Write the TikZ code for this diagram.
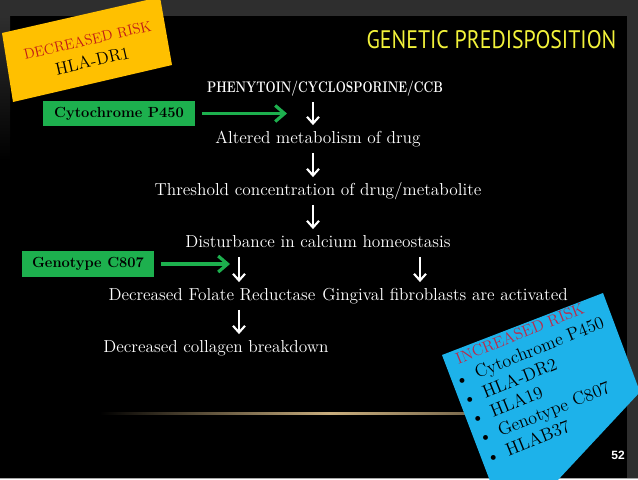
\documentclass[tikz,border=0pt]{standalone}
\usepackage{fontspec}
\usepackage{xcolor}
\usepackage{tikz}
\usetikzlibrary{arrows.meta,calc}
\newfontfamily\titlefont{PT Sans}[FakeStretch=0.86]
\newfontfamily\numfont{Liberation Sans}
\definecolor{slidegray}{HTML}{2E2E2E}
\definecolor{titleyellow}{HTML}{F2F23A}
\definecolor{boxgreen}{HTML}{1DB04E}
\definecolor{riskorange}{HTML}{FFC000}
\definecolor{riskblue}{HTML}{1DB2EA}
\definecolor{decred}{HTML}{C01818}
\definecolor{incred}{HTML}{BE2A4A}
\definecolor{glowgold}{HTML}{C9AE7E}

\begin{document}
\begin{tikzpicture}[x=0.75pt,y=-0.75pt,
  txt/.style={text=white,font=\fontsize{13}{15}\selectfont,inner sep=1.5pt,text height=9pt,text depth=2.5pt},
  flow/.style={white,line width=1.6pt,shorten <=3pt,shorten >=3pt,-{Straight Barb[length=5pt,width=9pt]}},
  gflow/.style={boxgreen,line width=2.4pt,shorten <=5pt,-{Straight Barb[length=7pt,width=12pt]}},
  gbox/.style={fill=boxgreen,text=black,font=\fontsize{11}{13}\selectfont\bfseries,inner sep=0pt}]
  \useasboundingbox (0,0) rectangle (638,479);
  \clip (0,0) rectangle (638,479);
  % slide background
  \fill[black] (0,0) rectangle (638,479);
  \fill[slidegray] (0,0) rectangle (638,16);
  \fill[slidegray] (627,0) rectangle (638,479);
  \shade[top color=slidegray,bottom color=black] (0,16) rectangle (10,160);
  \fill[gray!70] (0,477.5) rectangle (638,479);
  \shade[left color=black,right color=glowgold] (100,412) rectangle (330,414);
  \shade[left color=glowgold,right color=glowgold!60!black] (330,412) rectangle (470,414);

  % risk notes
  \fill[riskorange] (2,33) -- (160,-3) -- (172,65) -- (13,102) -- cycle;
  \node[rotate=13,align=center,text=black,font=\fontsize{13}{16.5}\selectfont] (low) at (90,51)
    {{\fontsize{11}{16.5}\selectfont\color{decred}DECREASED RISK}\\HLA-DR1};
  \fill[riskblue] (442,355) -- (603,293) -- (640,392) -- (557,481) -- (490,481) -- cycle;
  \node[rotate=22,align=left,text=black,font=\fontsize{13.5}{15.6}\selectfont] (high) at (541,381)
    {\hspace*{7pt}{\fontsize{12}{15.6}\selectfont\color{incred}INCREASED RISK}\\
     \textbullet\hspace{6pt}Cytochrome P450\\
     \textbullet\hspace{6pt}HLA-DR2\\
     \textbullet\hspace{6pt}HLA19\\
     \textbullet\hspace{6pt}Genotype C807\\
     \textbullet\hspace{6pt}HLAB37};

  % pathway
  \node[text=titleyellow,font=\titlefont\fontsize{19}{21}\selectfont,anchor=east] (title) at (621,40) {GENETIC PREDISPOSITION};
  \node[txt,font=\bfseries\fontsize{11.5}{13}\selectfont] (drug) at (325,88) {\scalebox{0.78}[1]{PHENYTOIN/CYCLOSPORINE/CCB}};
  \node[txt] (alter) at (318,139) {Altered metabolism of drug};
  \node[txt] (thresh) at (318,191) {Threshold concentration of drug/metabolite};
  \node[txt] (dist) at (318,243) {Disturbance in calcium homeostasis};
  \node[txt] (folate) at (212,296) {Decreased Folate Reductase};
  \node[txt] (ging) at (445,296) {Gingival fibroblasts are activated};
  \node[txt] (coll) at (216,348) {Decreased collagen breakdown};
  \node[gbox,minimum width=114pt,minimum height=18.75pt] (cyp) at (119,113.5) {Cytochrome P450};
  \node[gbox,minimum width=99pt,minimum height=19.5pt] (geno) at (88,264) {Genotype C807};
  \node[text=white,font=\numfont\bfseries\fontsize{9}{10}\selectfont] (pg) at (618,455) {52};

  \coordinate (ax) at (313,0);
  \coordinate (bx) at (239,0);
  \coordinate (cx) at (420,0);
  \coordinate (g1) at (287,113.5);
  \coordinate (g2) at (230,264);
  \draw[flow] (drug.south -| ax) -- (alter.north -| ax);
  \draw[flow] (alter.south -| ax) -- (thresh.north -| ax);
  \draw[flow] (thresh.south -| ax) -- (dist.north -| ax);
  \draw[flow] (dist.south -| bx) -- (folate.north -| bx);
  \draw[flow] (dist.south -| cx) -- (ging.north -| cx);
  \draw[flow] (folate.south -| bx) -- (coll.north -| bx);
  \draw[gflow] (cyp) -- (g1);
  \draw[gflow] (geno) -- (g2);
\end{tikzpicture}
\end{document}
